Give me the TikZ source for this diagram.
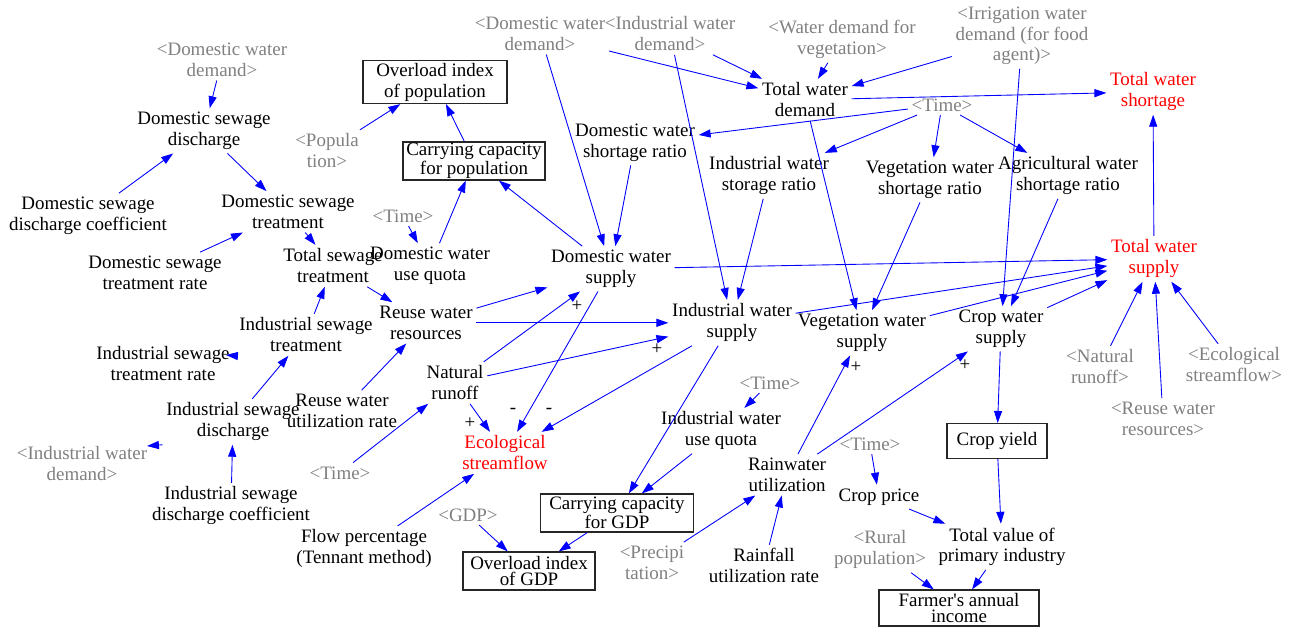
\documentclass[tikz,border=0pt]{standalone}
\usepackage{fontspec}
\setmainfont{Liberation Serif}
\newfontfamily\dgmserif{Liberation Serif}
\usetikzlibrary{arrows.meta}
\definecolor{shadowgray}{RGB}{128,128,128}
\definecolor{linkblue}{RGB}{0,0,255}
\newcommand{\dgmfont}{\dgmserif\fontsize{10.8}{11.9}\selectfont}
\newcommand{\boxfont}{\dgmserif\fontsize{10.8}{9.6}\selectfont}
\tikzstyle{plain} = [align=center, inner sep=2pt, font=\dgmfont]
\tikzstyle{var} = [plain, yshift=-1.6pt]
\tikzstyle{shadow} = [var, text=shadowgray]
\tikzstyle{key} = [var, text=red]
\tikzstyle{level} = [plain, rectangle, draw=black!85, line width=0.7pt, inner sep=0pt]
\tikzstyle{tightbox} = [font=\boxfont]
\tikzstyle{pol} = [inner sep=0pt, font=\dgmfont]
\tikzstyle{arrow} = [linkblue, line width=0.5pt, -{Triangle[length=6.8pt,width=4.6pt]}]

\begin{document}
\begin{tikzpicture}[x=0.02cm, y=-0.02cm]
\useasboundingbox (0,0) rectangle (1295,627);

\node (dwdA) [shadow] at (222,57) {<Domestic water\\demand>};
\node (popA) [shadow] at (327,148) {<Popula\\tion>};
\node (timeA) [shadow] at (403,213) {<Time>};
\node (iwdA) [shadow] at (82,461) {<Industrial water\\demand>};
\node (timeB) [shadow] at (340,470) {<Time>};
\node (gdpA) [shadow] at (468,512) {<GDP>};
\node (precA) [shadow] at (652,560) {<Precipi\\tation>};
\node (timeC) [shadow] at (770,380) {<Time>};
\node (timeD) [shadow] at (870,441) {<Time>};
\node (ruralA) [shadow] at (880,547) {<Rural\\population>};
\node (dwdB) [shadow] at (540,31) {<Domestic water\\demand>};
\node (iwdB) [shadow] at (670,31) {<Industrial water\\demand>};
\node (wdvA) [shadow] at (842,37) {<Water demand for\\vegetation>};
\node (iwdfA) [shadow] at (1022,33) {<Irrigation water\\demand (for food\\agent)>};
\node (timeE) [shadow] at (942,102) {<Time>};
\node (nrB) [shadow] at (1100,364) {<Natural\\runoff>};
\node (rwrB) [shadow] at (1163,416) {<Reuse water\\resources>};
\node (esB) [shadow] at (1234,362) {<Ecological\\streamflow>};

\node (dsd) [var] at (204,128) {Domestic sewage\\discharge};
\node (dsdc) [var] at (88,213) {Domestic sewage\\discharge coefficient};
\node (dst) [var] at (288,209) {Domestic sewage\\treatment};
\node (dstr) [var] at (155,270) {Domestic sewage\\treatment rate};
\node (tst) [var] at (333,263) {Total sewage\\treatment};
\node (dwuq) [var] at (430,263) {Domestic water\\use quota};
\node (rwr) [var] at (426,320) {Reuse water\\resources};
\node (ist) [var] at (306,332) {Industrial sewage\\treatment};
\node (istr) [var] at (163,361) {Industrial sewage\\treatment rate};
\node (isd) [var] at (233,419) {Industrial sewage\\discharge};
\node (rwur) [var] at (342,408) {Reuse water\\utilization rate};
\node (isdc) [var] at (231,503) {Industrial sewage\\discharge coefficient};
\node (fp) [var] at (364,546) {Flow percentage\\(Tennant method)};
\node (nr) [var] at (455,380) {Natural\\runoff};
\node (es) [key] at (505,450) {Ecological\\streamflow};
\node (dws) [var] at (611,266) {Domestic water\\supply};
\node (dwsr) [var] at (635,140) {Domestic water\\shortage ratio};
\node (twd) [var] at (805,97) {Total water\\demand};
\node (twsh) [key] at (1153,89) {Total water\\shortage};
\node (iwsr) [var] at (769,173) {Industrial water\\storage ratio};
\node (vwsr) [var] at (930,177) {Vegetation water\\shortage ratio};
\node (awsr) [var] at (1068,173) {Agricultural water\\shortage ratio};
\node (tws) [key] at (1154,256) {Total water\\supply};
\node (iws) [var] at (732,320) {Industrial water\\supply};
\node (vws) [var] at (862,330) {Vegetation water\\supply};
\node (cws) [var] at (1001,326) {Crop water\\supply};
\node (iwuq) [var] at (721,428) {Industrial water\\use quota};
\node (rwu) [var] at (787,472) {Rainwater\\utilization};
\node (rfur) [var] at (764,563) {Rainfall\\utilization rate};
\node (cp) [var] at (879,494) {Crop price};
\node (tvpi) [var] at (1002,544) {Total value of\\primary industry};

\node (oip) [level, minimum width=2.88cm, minimum height=0.86cm] at (435,82) {Overload index\\of population};
\node (ccp) [level, tightbox, minimum width=2.84cm, minimum height=0.76cm] at (474,161) {Carrying capacity\\for population};
\node (ccg) [level, tightbox, minimum width=3.06cm, minimum height=0.76cm] at (617,513) {Carrying capacity\\for GDP};
\node (oig) [level, tightbox, minimum width=2.64cm, minimum height=0.76cm] at (529,571) {Overload index\\of GDP};
\node (cy) [level, minimum width=2cm, minimum height=0.7cm] at (997,441) {Crop yield};
\node (fai) [level, tightbox, minimum width=3.2cm, minimum height=0.72cm] at (959,608) {Farmer's annual\\income};

\node (p1) [pol] at (577,306) {+};
\node (p2) [pol] at (657,349) {+};
\node (p3) [pol] at (470,423) {+};
\node (p4) [pol] at (856,367) {+};
\node (p5) [pol] at (965,365) {+};
\node (m1) [pol] at (513,411) {-};
\node (m2) [pol] at (549,411) {-};

\coordinate (istrtip) at (226,355);
\coordinate (iwdtip) at (147,446);

\draw [arrow] (dwdA) -- (dsd);
\draw [arrow] (dsdc) -- (dsd);
\draw [arrow] (dsd) -- (dst);
\draw [arrow] (dstr) -- (dst);
\draw [arrow] (popA) -- (oip);
\draw [arrow] (ccp) -- (oip);
\draw [arrow] (dst) -- (tst);
\draw [arrow] (timeA) -- (dwuq);
\draw [arrow] (dwuq) -- (ccp);
\draw [arrow] (dws) -- (ccp);
\draw [arrow] (dwdB) -- (dws);
\draw [arrow] (dwsr) -- (dws);
\draw [arrow] (tst) -- (rwr);
\draw [arrow] (ist) -- (tst);
\draw [arrow] (ist.south west) -- (istrtip);
\draw [arrow] (isd) -- (ist);
\draw [arrow] (isd.south west) -- (iwdtip);
\draw [arrow] (isdc) -- (isd);
\draw [arrow] (rwur) -- (rwr);
\draw [arrow] (timeB) -- (nr);
\draw [arrow] (rwr) -- (dws);
\draw [arrow] (rwr) -- (iws);
\draw [arrow] (nr) -- (dws);
\draw [arrow] (nr) -- (iws);
\draw [arrow] (nr) -- (es);
\draw [arrow] (dws) -- (es);
\draw [arrow] (iws) -- (es);
\draw [arrow] (fp) -- (es);
\draw [arrow] (iws) -- (ccg);
\draw [arrow] (iwuq) -- (ccg);
\draw [arrow] (timeC) -- (iwuq);
\draw [arrow] (gdpA) -- (oig);
\draw [arrow] (ccg) -- (oig);
\draw [arrow] (precA) -- (rwu);
\draw [arrow] (rfur) -- (rwu);
\draw [arrow] (rwu) -- (vws);
\draw [arrow] (rwu) -- (cws);
\draw [arrow] (timeD) -- (cp);
\draw [arrow] (cp) -- (tvpi);
\draw [arrow] (cws) -- (cy);
\draw [arrow] (cy) -- (tvpi);
\draw [arrow] (ruralA) -- (fai);
\draw [arrow] (tvpi) -- (fai);
\draw [arrow] (dwdB) -- (twd);
\draw [arrow] (iwdB) -- (twd);
\draw [arrow] (iwdB) -- (iws);
\draw [arrow] (wdvA) -- (twd);
\draw [arrow] (iwdfA) -- (twd);
\draw [arrow] (twd) -- (twsh);
\draw [arrow] (timeE) -- (dwsr);
\draw [arrow] (timeE) -- (iwsr);
\draw [arrow] (timeE) -- (vwsr);
\draw [arrow] (timeE) -- (awsr);
\draw [arrow] (twd) -- (vws);
\draw [arrow] (iwsr) -- (iws);
\draw [arrow] (vwsr) -- (vws);
\draw [arrow] (iwdfA) -- (cws);
\draw [arrow] (awsr) -- (cws);
\draw [arrow] (dws) -- (tws);
\draw [arrow] (iws) -- (tws);
\draw [arrow] (vws) -- (tws);
\draw [arrow] (cws) -- (tws);
\draw [arrow] (tws) -- (twsh);
\draw [arrow] (nrB) -- (tws);
\draw [arrow] (rwrB) -- (tws);
\draw [arrow] (esB) -- (tws);

\end{tikzpicture}
\end{document}
